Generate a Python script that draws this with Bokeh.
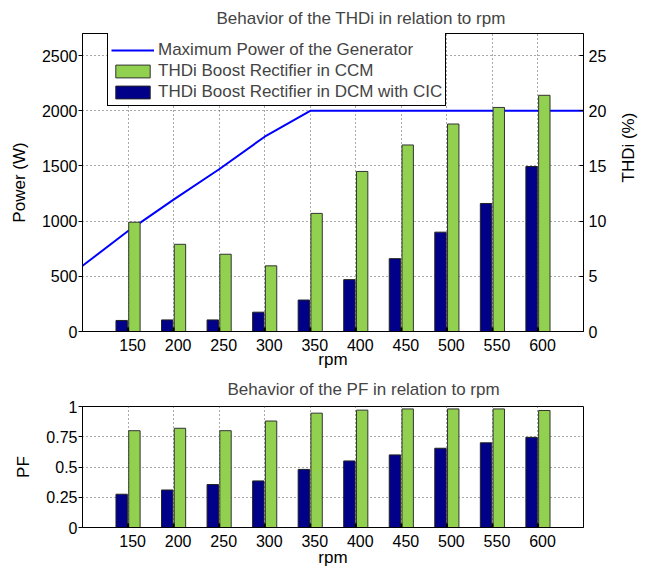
import math
from bokeh.plotting import figure
from bokeh.models import (ColumnDataSource, Range1d, LinearAxis, FixedTicker,
                          Legend, LegendItem, Title)
from bokeh.layouts import column
from bokeh.transform import dodge
from bokeh.embed import file_html
from bokeh.resources import INLINE

# ---------------- data ----------------
rpm = [150, 200, 250, 300, 350, 400, 450, 500, 550, 600]
thdi_ccm = [9.9, 7.9, 7.0, 5.95, 10.7, 14.5, 16.9, 18.8, 20.3, 21.4]
thdi_dcm = [1.0, 1.05, 1.05, 1.75, 2.85, 4.7, 6.6, 9.0, 11.6, 14.95]
line_rpm = [100, 150, 200, 250, 300, 350, 400, 450, 500, 550, 600, 650]
max_power = [595, 910, 1195, 1470, 1765, 2000, 2000, 2000, 2000, 2000, 2000, 2000]
pf_ccm = [0.80, 0.82, 0.80, 0.88, 0.945, 0.97, 0.98, 0.98, 0.98, 0.967]
pf_dcm = [0.275, 0.31, 0.355, 0.385, 0.48, 0.55, 0.60, 0.655, 0.70, 0.745]
power_ticks = [0, 500, 1000, 1500, 2000, 2500]
thd_ticks = [0, 5, 10, 15, 20, 25]
pf_ticks = [0, 0.25, 0.5, 0.75, 1]

# ---------------- style ----------------
FONT = "Liberation Sans"
GREEN = "#92D050"
NAVY = "#000088"
GRID = "#555555"
LABEL_SHIFT = 5  # tick-label offset (rpm units) as in the original rendering


def style(p, xlabel, ylabel, title_offset, title_standoff, xlabel_standoff):
    p.title.text_font = FONT
    p.title.text_font_size = "17px"
    p.title.text_font_style = "normal"
    p.title.align = "left"
    p.title.offset = title_offset
    p.title.standoff = title_standoff
    p.outline_line_color = "black"
    p.outline_line_alpha = 1
    p.outline_line_width = 1
    # x axis
    xa = p.xaxis[0]
    xa.ticker = FixedTicker(ticks=[r + LABEL_SHIFT for r in rpm])
    xa.major_label_overrides = {r + LABEL_SHIFT: str(r) for r in rpm}
    xa.major_tick_in = 0
    xa.major_tick_out = 0
    xa.minor_tick_line_color = None
    if xlabel:
        xa.axis_label = xlabel
    xa.major_label_standoff = 7
    xa.axis_label_standoff = xlabel_standoff
    # y axis
    ya = p.yaxis[0]
    ya.major_tick_in = 0
    ya.major_tick_out = 4
    ya.minor_tick_line_color = None
    ya.major_label_standoff = 1
    ya.axis_label = ylabel
    ya.axis_label_standoff = 10
    for ax in p.axis:
        ax.axis_line_color = "black"
        ax.major_tick_line_color = "black"
        ax.major_label_text_font = FONT
        ax.major_label_text_font_size = "16px"
        ax.major_label_text_color = "black"
        ax.axis_label_text_font = FONT
        ax.axis_label_text_font_size = "17px"
        ax.axis_label_text_font_style = "normal"
        ax.axis_label_text_color = "black"
    p.xgrid.ticker = FixedTicker(ticks=rpm)
    for g in (p.xgrid[0], p.ygrid[0]):
        g.grid_line_color = GRID
        g.grid_line_dash = "1 3"
        g.grid_line_width = 1


src = ColumnDataSource(dict(rpm=rpm, ccm=thdi_ccm, dcm=thdi_dcm,
                            pfc=pf_ccm, pfd=pf_dcm))

# ---------------- top figure ----------------
p1 = figure(frame_width=501, frame_height=298,
            x_range=Range1d(100, 650), y_range=Range1d(0, 2700),
            output_backend="svg", toolbar_location=None,
            min_border_left=82, min_border_right=55,
            min_border_top=32, min_border_bottom=38,
            title="Behavior of the THDi in relation to rpm")
p1.extra_y_ranges = {"thd": Range1d(0, 27)}
p1.yaxis[0].ticker = FixedTicker(ticks=power_ticks)

ln = p1.line(line_rpm, max_power, line_color="#0000FF", line_width=2)
gb = p1.vbar(x=dodge("rpm", 7), top="ccm", width=12.5, y_range_name="thd",
             fill_color=GREEN, line_color="#333333", line_width=1, source=src)
bb = p1.vbar(x=dodge("rpm", -7), top="dcm", width=12.5, y_range_name="thd",
             fill_color=NAVY, line_color="#222222", line_width=1, source=src)
p1.rect(x="rpm", y=0, width=2, height=8, width_units="screen",
        height_units="screen", fill_color="black", line_color=None, source=src)

rax = LinearAxis(y_range_name="thd", ticker=FixedTicker(ticks=thd_ticks),
                 axis_label="THDi (%)")
rax.major_tick_in = 4
rax.major_tick_out = 0
rax.minor_tick_line_color = None
rax.major_label_standoff = 5
rax.axis_label_standoff = 19
try:
    rax.axis_label_orientation = math.pi / 2
except Exception:
    pass
p1.add_layout(rax, "right")

style(p1, None, "Power (W)", 134, 12, 0)

# x label of the upper panel, placed as a compact title below the axis
xlab1 = Title(text="rpm", align="center", standoff=-11,
              text_font=FONT, text_font_size="17px",
              text_font_style="normal", text_color="black")
p1.add_layout(xlab1, "below")

legend = Legend(items=[
    LegendItem(label="Maximum Power of the Generator", renderers=[ln]),
    LegendItem(label="THDi Boost Rectifier in CCM", renderers=[gb]),
    LegendItem(label="THDi Boost Rectifier in DCM with CIC", renderers=[bb]),
], location=(25, 225))
legend.title = " "
legend.title_text_font_size = "1px"
legend.title_standoff = 4
legend.border_line_color = "black"
legend.border_line_alpha = 1
legend.border_line_width = 1
legend.background_fill_alpha = 1
legend.label_text_font = FONT
legend.label_text_font_size = "17px"
legend.glyph_width = 43
legend.glyph_height = 16
legend.label_standoff = 4
legend.padding = 3
legend.spacing = 0
legend.label_height = 21
legend.margin = 0
p1.add_layout(legend)

# ---------------- bottom figure ----------------
p2 = figure(frame_width=501, frame_height=121,
            x_range=Range1d(100, 650), y_range=Range1d(0, 1),
            output_backend="svg", toolbar_location=None,
            min_border_left=82, min_border_right=55,
            min_border_top=35, min_border_bottom=37,
            title="Behavior of the PF in relation to rpm")
p2.yaxis[0].ticker = FixedTicker(ticks=pf_ticks)
p2.yaxis[0].major_label_overrides = {t: f"{t:g}" for t in pf_ticks}

p2.vbar(x=dodge("rpm", 7), top="pfc", width=12.5,
        fill_color=GREEN, line_color="#333333", line_width=1, source=src)
p2.vbar(x=dodge("rpm", -7), top="pfd", width=12.5,
        fill_color=NAVY, line_color="#222222", line_width=1, source=src)
p2.rect(x="rpm", y=0, width=2, height=8, width_units="screen",
        height_units="screen", fill_color="black", line_color=None, source=src)

style(p2, "rpm", "PF", 145, 16, -2)

layout = column(p1, p2)
open("out.html", "w").write(file_html(layout, INLINE))
